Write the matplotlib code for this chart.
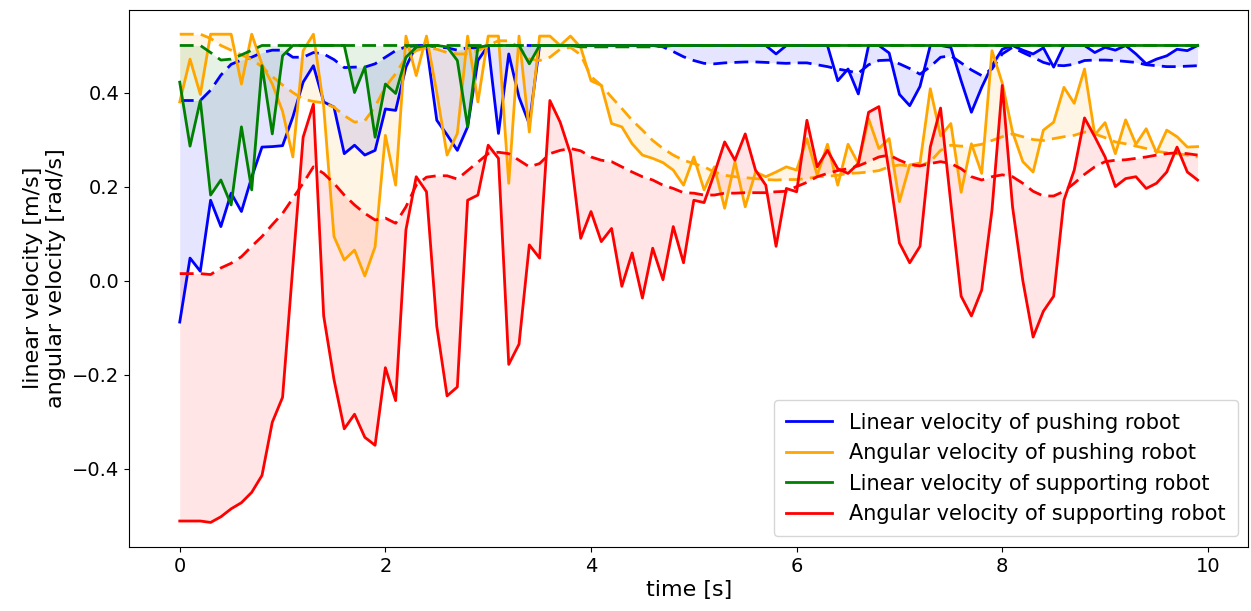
import numpy as np
import matplotlib
matplotlib.use("Agg")
import matplotlib.pyplot as plt

# time axis: 100 samples, 0.1 s apart
time = np.round(np.arange(100) * 0.1, 1)

# Linear velocity of pushing robot (solid) and its trend (dashed)
lin_push = [
    -0.088, 0.048, 0.02, 0.171, 0.115, 0.186, 0.147, 0.22, 0.284, 0.285,
    0.287, 0.348, 0.422, 0.457, 0.38, 0.369, 0.27, 0.288, 0.267, 0.277,
    0.365, 0.362, 0.454, 0.5, 0.5, 0.341, 0.31, 0.277, 0.327, 0.468,
    0.5, 0.313, 0.482, 0.39, 0.333, 0.5, 0.5, 0.5, 0.5, 0.5,
    0.5, 0.5, 0.5, 0.5, 0.5, 0.5, 0.5, 0.5, 0.5, 0.5,
    0.5, 0.5, 0.5, 0.5, 0.5, 0.5, 0.5, 0.5, 0.482, 0.5,
    0.5, 0.5, 0.5, 0.5, 0.425, 0.45, 0.397, 0.5, 0.5, 0.484,
    0.396, 0.372, 0.413, 0.5, 0.5, 0.496, 0.425, 0.358, 0.411, 0.457,
    0.492, 0.5, 0.49, 0.482, 0.495, 0.454, 0.5, 0.5, 0.5, 0.485,
    0.496, 0.49, 0.5, 0.482, 0.461, 0.471, 0.478, 0.492, 0.489, 0.5,
]
lin_push_trend = [
    0.383, 0.383, 0.383, 0.405, 0.437, 0.46, 0.469, 0.475, 0.485, 0.49,
    0.49, 0.475, 0.475, 0.485, 0.482, 0.47, 0.453, 0.454, 0.454, 0.461,
    0.475, 0.489, 0.497, 0.5, 0.5, 0.497, 0.495, 0.49, 0.495, 0.495,
    0.5, 0.5, 0.5, 0.5, 0.5, 0.5, 0.5, 0.5, 0.5, 0.5,
    0.5, 0.5, 0.5, 0.5, 0.5, 0.5, 0.5, 0.497, 0.487, 0.476,
    0.468, 0.462, 0.461, 0.463, 0.464, 0.465, 0.465, 0.464, 0.463, 0.462,
    0.463, 0.463, 0.459, 0.455, 0.45, 0.446, 0.441, 0.459, 0.468, 0.469,
    0.461, 0.451, 0.439, 0.455, 0.475, 0.478, 0.463, 0.448, 0.436, 0.45,
    0.482, 0.496, 0.485, 0.475, 0.464, 0.458, 0.457, 0.46, 0.468, 0.469,
    0.469, 0.468, 0.466, 0.464, 0.459, 0.457, 0.455, 0.455, 0.456, 0.457,
]

# Angular velocity of pushing robot
ang_push = [
    0.38, 0.471, 0.396, 0.524, 0.524, 0.524, 0.418, 0.524, 0.46, 0.418,
    0.36, 0.263, 0.489, 0.524, 0.37, 0.094, 0.044, 0.065, 0.01, 0.072,
    0.309, 0.203, 0.52, 0.436, 0.52, 0.4, 0.267, 0.313, 0.52, 0.38,
    0.52, 0.52, 0.207, 0.52, 0.316, 0.52, 0.52, 0.5, 0.52, 0.496,
    0.425, 0.415, 0.334, 0.327, 0.291, 0.267, 0.26, 0.251, 0.235, 0.203,
    0.263, 0.193, 0.242, 0.154, 0.253, 0.157, 0.231, 0.221, 0.231, 0.242,
    0.235, 0.302, 0.224, 0.29, 0.203, 0.29, 0.249, 0.344, 0.281, 0.302,
    0.168, 0.246, 0.25, 0.408, 0.308, 0.334, 0.188, 0.291, 0.228, 0.489,
    0.42, 0.316, 0.253, 0.231, 0.32, 0.337, 0.411, 0.377, 0.45, 0.31,
    0.336, 0.27, 0.342, 0.29, 0.323, 0.272, 0.32, 0.306, 0.284, 0.285,
]
ang_push_trend = [
    0.524, 0.524, 0.524, 0.515, 0.5, 0.49, 0.48, 0.47, 0.455, 0.434,
    0.416, 0.4, 0.386, 0.381, 0.378, 0.369, 0.351, 0.337, 0.34, 0.37,
    0.412, 0.44, 0.475, 0.489, 0.496, 0.492, 0.485, 0.482, 0.482, 0.489,
    0.5, 0.51, 0.51, 0.496, 0.471, 0.468, 0.475, 0.492, 0.496, 0.48,
    0.434, 0.415, 0.39, 0.366, 0.341, 0.32, 0.298, 0.281, 0.267, 0.256,
    0.249, 0.242, 0.231, 0.224, 0.221, 0.219, 0.217, 0.215, 0.214, 0.215,
    0.215, 0.217, 0.221, 0.222, 0.224, 0.228, 0.229, 0.231, 0.234, 0.242,
    0.246, 0.244, 0.244, 0.253, 0.277, 0.288, 0.286, 0.286, 0.29, 0.298,
    0.306, 0.312, 0.306, 0.3, 0.298, 0.302, 0.306, 0.309, 0.316, 0.312,
    0.304, 0.295, 0.291, 0.286, 0.281, 0.275, 0.272, 0.27, 0.267, 0.263,
]

# Linear velocity of supporting robot
lin_supp = [
    0.422, 0.286, 0.383, 0.182, 0.214, 0.161, 0.327, 0.193, 0.457, 0.312,
    0.478, 0.5, 0.5, 0.5, 0.5, 0.5, 0.5, 0.4, 0.454, 0.305,
    0.418, 0.398, 0.475, 0.496, 0.5, 0.5, 0.497, 0.468, 0.327, 0.496,
    0.5, 0.5, 0.5, 0.5, 0.461, 0.5, 0.5, 0.5, 0.5, 0.5,
] + [0.5] * 60
lin_supp_trend = [
    0.5, 0.5, 0.5, 0.485, 0.469, 0.471, 0.48, 0.49, 0.5, 0.5,
] + [0.5] * 29 + [
    0.497, 0.497, 0.497, 0.497, 0.497, 0.497, 0.497, 0.497, 0.498,
] + [0.5] * 52

# Angular velocity of supporting robot
ang_supp = [
    -0.511, -0.511, -0.511, -0.514, -0.502, -0.485, -0.472, -0.45, -0.414, -0.301,
    -0.248, 0.03, 0.305, 0.375, -0.075, -0.21, -0.315, -0.284, -0.333, -0.35,
    -0.185, -0.255, 0.108, 0.221, 0.189, -0.097, -0.245, -0.226, 0.171, 0.182,
    0.288, 0.26, -0.178, -0.135, 0.076, 0.048, 0.383, 0.337, 0.27, 0.09,
    0.147, 0.083, 0.111, -0.012, 0.059, -0.037, 0.069, 0.002, 0.115, 0.038,
    0.171, 0.166, 0.228, 0.295, 0.256, 0.312, 0.235, 0.203, 0.073, 0.196,
    0.189, 0.341, 0.242, 0.277, 0.238, 0.228, 0.249, 0.358, 0.37, 0.23,
    0.08, 0.038, 0.073, 0.284, 0.367, 0.164, -0.033, -0.075, -0.02, 0.15,
    0.415, 0.157, 0.0, -0.12, -0.065, -0.033, 0.171, 0.235, 0.346, 0.306,
    0.263, 0.2, 0.217, 0.221, 0.196, 0.207, 0.231, 0.284, 0.231, 0.214,
]
ang_supp_trend = [
    0.015, 0.015, 0.015, 0.013, 0.027, 0.037, 0.051, 0.073, 0.094, 0.119,
    0.143, 0.175, 0.207, 0.242, 0.228, 0.207, 0.182, 0.161, 0.143, 0.129,
    0.133, 0.122, 0.157, 0.203, 0.22, 0.223, 0.223, 0.216, 0.234, 0.252,
    0.27, 0.273, 0.27, 0.256, 0.242, 0.249, 0.27, 0.277, 0.281, 0.276,
    0.263, 0.256, 0.253, 0.242, 0.231, 0.221, 0.214, 0.203, 0.196, 0.187,
    0.186, 0.182, 0.182, 0.186, 0.186, 0.187, 0.187, 0.187, 0.189, 0.19,
    0.2, 0.209, 0.221, 0.228, 0.234, 0.238, 0.244, 0.253, 0.263, 0.267,
    0.256, 0.247, 0.244, 0.249, 0.253, 0.249, 0.238, 0.221, 0.214, 0.221,
    0.225, 0.221, 0.207, 0.19, 0.18, 0.18, 0.19, 0.207, 0.226, 0.242,
    0.253, 0.256, 0.257, 0.26, 0.263, 0.267, 0.27, 0.272, 0.27, 0.267,
]

series = [
    ("Linear velocity of pushing robot", lin_push, lin_push_trend, "blue"),
    ("Angular velocity of pushing robot", ang_push, ang_push_trend, "orange"),
    ("Linear velocity of supporting robot", lin_supp, lin_supp_trend, "green"),
    ("Angular velocity of supporting robot", ang_supp, ang_supp_trend, "red"),
]

fig, ax = plt.subplots(figsize=(12.51, 6.11), dpi=100)
fig.subplots_adjust(left=0.103, right=0.998, top=0.984, bottom=0.105)

for label, values, trend, color in series:
    ax.plot(time, values, color=color, lw=2, label=label)
    ax.plot(time, trend, color=color, lw=2, linestyle=(0, (5, 2.6)))
    ax.fill_between(time, values, trend, color=color, alpha=0.1, lw=0)

ax.set_xlabel("time [s]", fontsize=16, labelpad=3)
ax.set_ylabel("linear velocity [m/s]\nangular velocity [rad/s]", fontsize=16)
ax.tick_params(labelsize=14)
ax.legend(loc="lower right", fontsize=15, handlelength=2.2, borderpad=0.6)

plt.savefig("out.png", dpi=100)
